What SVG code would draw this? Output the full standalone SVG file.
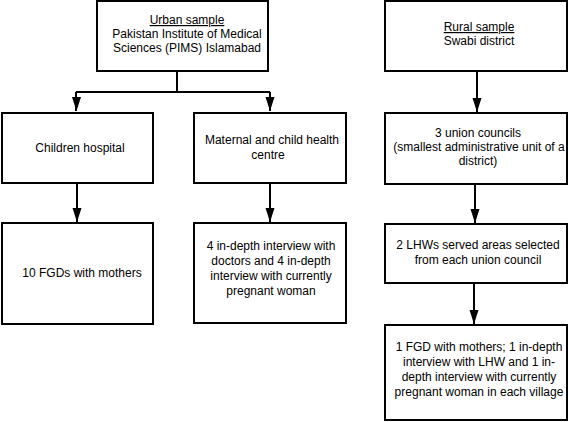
<svg xmlns="http://www.w3.org/2000/svg" width="569" height="422" viewBox="0 0 569 422">
<style>
.box{fill:#fff;stroke:#000;stroke-width:2}
.t{font-family:"Liberation Sans",Arial,sans-serif;font-size:12px;fill:#000;text-anchor:middle}
.c{fill:none;stroke:#000;stroke-width:2}
.u{text-decoration:underline}
</style>
<rect width="569" height="422" fill="#fff"/>
<g id="connectors">
<path class="c" d="M177,71 V92"/>
<path class="c" d="M76,92 H270"/>
<path class="c" d="M76,92 V111"/>
<path class="c" d="M270,92 V111"/>
<path class="c" d="M77,183 V222"/>
<path class="c" d="M270,183 V222"/>
<path class="c" d="M477,71 V112"/>
<path class="c" d="M475,184 V223"/>
<path class="c" d="M474,283 V324"/>
<g fill="#000">
<polygon points="72,97 81,97 76.5,111"/>
<polygon points="265.5,97 274.5,97 270,111"/>
<polygon points="72.5,208 81.5,208 77,222"/>
<polygon points="265.5,208 274.5,208 270,222"/>
<polygon points="472.5,98 481.5,98 477,112"/>
<polygon points="470.5,209 479.5,209 475,223"/>
<polygon points="469.5,310 478.5,310 474,324"/>
</g>
</g>
<g id="urban">
<rect class="box" x="97" y="1" width="171" height="70"/>
<text class="t" x="187" y="24"><tspan class="u">Urban sample</tspan></text>
<text class="t" x="187" y="38">Pakistan Institute of Medical</text>
<text class="t" x="187" y="52">Sciences (PIMS) Islamabad</text>
</g>
<g id="children">
<rect class="box" x="2" y="113" width="151" height="70"/>
<text class="t" x="80" y="152">Children hospital</text>
</g>
<g id="maternal">
<rect class="box" x="194" y="113" width="152" height="70"/>
<text class="t" x="272" y="144">Maternal and child health</text>
<text class="t" x="268" y="159">centre</text>
</g>
<g id="fgd">
<rect class="box" x="2" y="223" width="151" height="101"/>
<text class="t" x="82" y="277">10 FGDs with mothers</text>
</g>
<g id="interviews">
<rect class="box" x="194" y="223" width="152" height="100"/>
<text class="t" x="271" y="250">4 in-depth interview with</text>
<text class="t" x="271" y="265">doctors and 4 in-depth</text>
<text class="t" x="271" y="280">interview with currently</text>
<text class="t" x="271" y="295">pregnant woman</text>
</g>
<g id="rural">
<rect class="box" x="385" y="1" width="182" height="70"/>
<text class="t" x="479" y="31"><tspan class="u">Rural sample</tspan></text>
<text class="t" x="479" y="45">Swabi district</text>
</g>
<g id="union">
<rect class="box" x="385" y="113" width="182" height="71"/>
<text class="t" x="478" y="137">3 union councils</text>
<text class="t" x="479" y="151">(smallest administrative unit of a</text>
<text class="t" x="478" y="165">district)</text>
</g>
<g id="lhw">
<rect class="box" x="385" y="224" width="182" height="59"/>
<text class="t" x="478" y="249">2 LHWs served areas selected</text>
<text class="t" x="478" y="264">from each union council</text>
</g>
<g id="village">
<rect class="box" x="385" y="325" width="182" height="95"/>
<text class="t" x="479" y="351">1 FGD with mothers; 1 in-depth</text>
<text class="t" x="479" y="366">interview with LHW and 1 in-</text>
<text class="t" x="479" y="381">depth interview with currently</text>
<text class="t" x="479" y="396">pregnant woman in each village</text>
</g>
</svg>
